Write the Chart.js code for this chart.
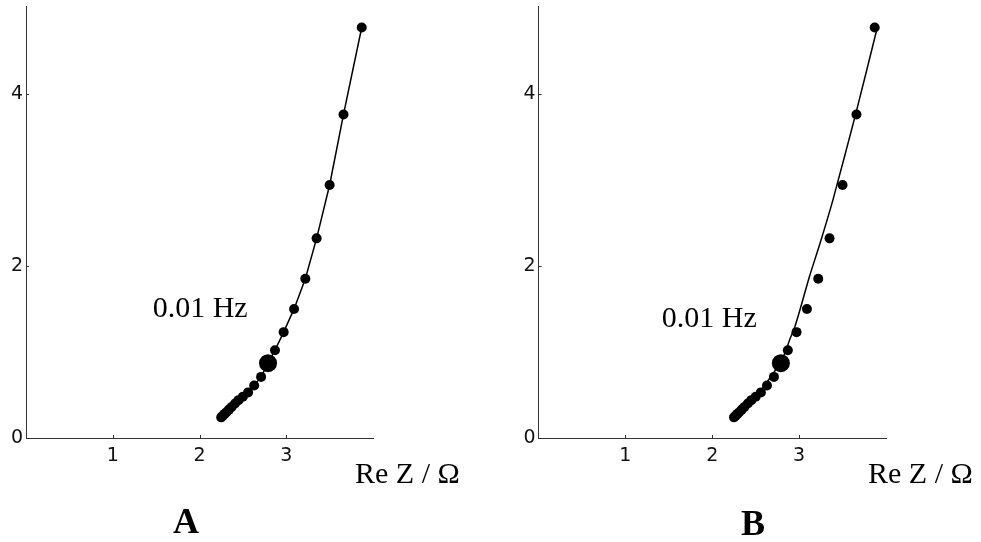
<!DOCTYPE html>
<html>
<head>
<meta charset="utf-8">
<script src="https://cdn.jsdelivr.net/npm/chart.js@4.4.1/dist/chart.umd.min.js"></script>
<style>
  body { margin: 0; background: #fff; }
  #wrap { position: relative; width: 981px; height: 542px; }
  canvas { position: absolute; top: 0; }
</style>
</head>
<body>
<div id="wrap">
  <canvas id="chartA" width="490" height="542" style="left:0px"></canvas>
  <canvas id="chartB" width="491" height="542" style="left:490px"></canvas>
</div>
<script>
// 測定点 (Re Z, -Im Z)
const reZ = [3.87, 3.66, 3.50, 3.35, 3.22, 3.09, 2.97, 2.87, 2.79, 2.71, 2.63, 2.56, 2.50, 2.45, 2.41, 2.37, 2.34, 2.31, 2.29, 2.27, 2.25];
const imZ = [4.77, 3.76, 2.94, 2.32, 1.85, 1.50, 1.23, 1.02, 0.87, 0.71, 0.61, 0.53, 0.48, 0.44, 0.40, 0.36, 0.33, 0.30, 0.28, 0.26, 0.24];
// 0.01 Hz の点
const markIndex = 8;
// Bのフィット曲線
const fitRe = [3.90, 3.65, 3.39, 3.24, 3.12, 3.01, 2.95, 2.89, 2.85, 2.78, 2.68, 2.55, 2.40, 2.25];
const fitIm = [4.77, 3.76, 2.77, 2.26, 1.88, 1.49, 1.29, 1.14, 1.02, 0.87, 0.72, 0.54, 0.38, 0.24];
// 目盛り
const xTicks = [1, 2, 3];
const yTicks = [0, 2, 4];

const serif = '"Liberation Serif", "Times New Roman", serif';

function toPoints(xs, ys) {
  return xs.map((x, i) => ({ x: x, y: ys[i] }));
}

//軸の内側の小さい目盛りと文字を描く
const extras = {
  id: 'extras',
  afterDraw(chart, args, opts) {
    const c = chart.ctx;
    const xs = chart.scales.x;
    const ys = chart.scales.y;
    const area = chart.chartArea;
    c.save();
    c.strokeStyle = '#333';
    c.lineWidth = 1;
    xTicks.forEach(v => {
      const px = Math.round(xs.getPixelForValue(v)) + 0.5;
      c.beginPath();
      c.moveTo(px, area.bottom);
      c.lineTo(px, area.bottom - 3);
      c.stroke();
    });
    yTicks.forEach(v => {
      const py = Math.round(ys.getPixelForValue(v)) + 0.5;
      c.beginPath();
      c.moveTo(area.left, py);
      c.lineTo(area.left + 3, py);
      c.stroke();
    });
    c.fillStyle = '#000';
    c.textBaseline = 'alphabetic';
    c.font = '30px ' + serif;
    c.textAlign = 'left';
    c.fillText('0.01 Hz', xs.getPixelForValue(opts.hzX), ys.getPixelForValue(opts.hzY));
    c.fillText('Re Z / \u03A9', area.right - 18, area.bottom + 45);
    c.font = 'bold 36px ' + serif;
    c.textAlign = 'center';
    c.fillText(opts.letter, opts.letterX, opts.letterY);
    c.restore();
  }
};

function makeChart(id, axisLeft, padRight, datasets, ex) {
  return new Chart(document.getElementById(id), {
    type: 'scatter',
    data: { datasets: datasets },
    options: {
      responsive: false,
      animation: false,
      devicePixelRatio: 1,
      layout: { autoPadding: false, padding: { left: 0, right: padRight, top: 6, bottom: 0 } },
      plugins: { legend: { display: false }, tooltip: { enabled: false }, extras: ex },
      scales: {
        x: {
          type: 'linear', min: 0, max: 4,
          afterBuildTicks: s => { s.ticks = xTicks.map(v => ({ value: v })); },
          afterFit: s => { s.height = 104; s.paddingLeft = 0; s.paddingRight = 0; },
          grid: { display: false, drawTicks: false },
          border: { display: true, color: '#333', width: 1 },
          ticks: { padding: 7, color: '#111', font: { family: 'DejaVu Sans', size: 19 } }
        },
        y: {
          type: 'linear', min: 0, max: 5.02,
          afterBuildTicks: s => { s.ticks = yTicks.map(v => ({ value: v })); },
          afterFit: s => { s.width = axisLeft; s.paddingTop = 0; s.paddingBottom = 0; },
          grid: { display: false, drawTicks: false },
          border: { display: true, color: '#333', width: 1 },
          ticks: { padding: 3, color: '#111', font: { family: 'DejaVu Sans', size: 19 } }
        }
      }
    },
    plugins: [extras]
  });
}

const radii = reZ.map((v, i) => i === markIndex ? 9 : 5);

function pointSet() {
  return {
    data: toPoints(reZ, imZ),
    showLine: false,
    pointRadius: radii,
    pointBackgroundColor: '#000',
    pointBorderWidth: 0,
    order: 0
  };
}

//A: 測定点を結ぶ線
makeChart('chartA', 26, 117, [
  pointSet(),
  {
    data: toPoints(reZ, imZ),
    showLine: true,
    borderColor: '#000',
    borderWidth: 1.5,
    pointRadius: 0,
    order: 1
  }
], { hzX: 1.46, hzY: 1.41, letter: 'A', letterX: 186, letterY: 533 });

//B: フィット曲線
makeChart('chartB', 48.5, 95, [
  pointSet(),
  {
    data: toPoints(fitRe, fitIm),
    showLine: true,
    borderColor: '#000',
    borderWidth: 1.5,
    tension: 0.2,
    pointRadius: 0,
    order: 1
  }
], { hzX: 1.42, hzY: 1.29, letter: 'B', letterX: 263, letterY: 535 });
</script>
</body>
</html>
